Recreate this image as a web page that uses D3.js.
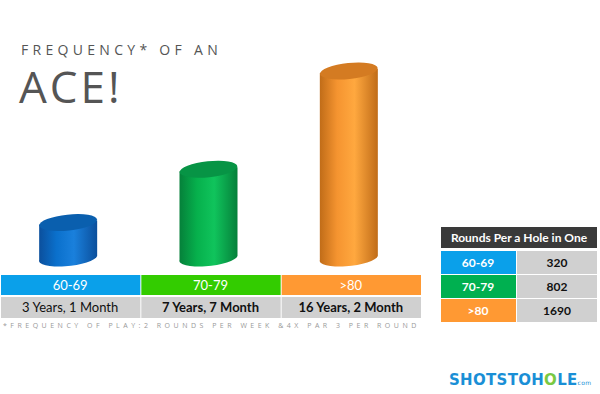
<!DOCTYPE html>
<html lang="en">
<head>
<meta charset="UTF-8">
<script src="https://cdnjs.cloudflare.com/ajax/libs/d3/7.9.0/d3.min.js"></script>
<title>Frequency of an Ace</title>
<style>
  body { margin: 0; background: #fff; font-family: "Open Sans", Arial, sans-serif; }
  svg { display: block; }
</style>
</head>
<body>
<div id="chart"></div>
<script>
  // data
  const ageGroups = ["60-69", "70-79", ">80"];
  const roundsPerAce = [320, 802, 1690];
  const timeLabels = ["3 Years, 1 Month", "7 Years, 7 Month", "16 Years, 2 Month"];
  const bandColors = ["#0aa0ea", "#33cc00", "#ff9933"];
  const tableColors = ["#0aa0ea", "#00b050", "#ff9933"];
  const cylColors = [
    { dark: "#0b4f9c", mid: "#0a70cc", light: "#1a80dc", top: "#0a5fae" },
    { dark: "#05803a", mid: "#06b04c", light: "#10c45c", top: "#079445" },
    { dark: "#c06c18", mid: "#f59430", light: "#ffa83f", top: "#d47b22" }
  ];

  const width = 600, height = 394;
  const svg = d3.select("#chart").append("svg")
    .attr("width", width).attr("height", height);

  const defs = svg.append("defs");
  cylColors.forEach((c, i) => {
    const g = defs.append("linearGradient").attr("id", "cyl" + i)
      .attr("x1", "0%").attr("x2", "100%").attr("y1", "0%").attr("y2", "0%");
    g.append("stop").attr("offset", "0%").attr("stop-color", c.dark);
    g.append("stop").attr("offset", "30%").attr("stop-color", c.mid);
    g.append("stop").attr("offset", "60%").attr("stop-color", c.light);
    g.append("stop").attr("offset", "100%").attr("stop-color", c.dark);
  });

  // title
  svg.append("text").attr("x", 21).attr("y", 55)
    .attr("font-size", 14).attr("letter-spacing", 4.3).attr("fill", "#555")
    .text("FREQUENCY* OF AN");
  svg.append("text").attr("x", 19).attr("y", 103)
    .attr("font-size", 44).attr("letter-spacing", 3).attr("fill", "#555")
    .text("ACE!");

  // scales
  const x = d3.scaleBand().domain(ageGroups).range([0, 421]);
  const y = d3.scaleLinear().domain([0, 1690]).range([258, 71]);
  const rx = 29, ry = 8, tilt = -6;

  const cyl = svg.selectAll(".cyl").data(ageGroups).enter().append("g")
    .attr("class", "cyl")
    .attr("transform", d => `translate(${x(d) + x.bandwidth() / 2 - 2},0)`);

  cyl.append("path")
    .attr("fill", (d, i) => `url(#cyl${i})`)
    .attr("d", (d, i) => {
      const yt = y(roundsPerAce[i]), yb = y(0);
      return `M${-rx},${yt + 2} L${-rx},${yb + 2} A${rx},${ry} ${tilt} 0 0 ${rx},${yb - 2} L${rx},${yt - 2} Z`;
    });
  cyl.append("ellipse")
    .attr("cx", 0).attr("cy", (d, i) => y(roundsPerAce[i]))
    .attr("rx", rx).attr("ry", ry)
    .attr("transform", (d, i) => `rotate(${tilt},0,${y(roundsPerAce[i])})`)
    .attr("fill", (d, i) => cylColors[i].top);

  // label bands
  svg.selectAll(".band").data(ageGroups).enter().append("rect")
    .attr("x", d => x(d) + 1).attr("y", 275)
    .attr("width", x.bandwidth() - 1).attr("height", 20)
    .attr("fill", (d, i) => bandColors[i]);
  svg.selectAll(".bandText").data(ageGroups).enter().append("text")
    .attr("x", d => x(d) + x.bandwidth() / 2).attr("y", 290)
    .attr("text-anchor", "middle").attr("font-size", 13).attr("fill", "#fff")
    .attr("font-family", "Lato, sans-serif")
    .text(d => d);
  svg.selectAll(".timeRect").data(ageGroups).enter().append("rect")
    .attr("x", d => x(d) + 1).attr("y", 297)
    .attr("width", x.bandwidth() - 1).attr("height", 21)
    .attr("fill", "#d0d0d0");
  svg.selectAll(".timeText").data(timeLabels).enter().append("text")
    .attr("x", (d, i) => x(ageGroups[i]) + x.bandwidth() / 2).attr("y", 312)
    .attr("text-anchor", "middle").attr("font-size", 13).attr("fill", "#111")
    .attr("font-family", "Lato, sans-serif")
    .attr("font-weight", (d, i) => i === 0 ? 400 : 700)
    .text(d => d);

  svg.append("text").attr("x", 3).attr("y", 328)
    .attr("font-size", 7).attr("letter-spacing", 3.5).attr("fill", "#999")
    .text("*FREQUENCY OF PLAY:2 ROUNDS PER WEEK &4X PAR 3 PER ROUND");

  // table
  svg.append("rect").attr("x", 441).attr("y", 227).attr("width", 156).attr("height", 21).attr("fill", "#3a3a3a");
  svg.append("text").attr("x", 519).attr("y", 242).attr("text-anchor", "middle")
    .attr("font-size", 12).attr("font-weight", 700).attr("fill", "#fff")
    .attr("font-family", "Lato, sans-serif")
    .text("Rounds Per a Hole in One");
  const rowY = d3.scaleBand().domain(ageGroups).range([251, 323]);
  const rows = svg.selectAll(".row").data(ageGroups).enter().append("g")
    .attr("transform", d => `translate(0,${rowY(d)})`);
  rows.append("rect").attr("x", 441).attr("width", 75).attr("height", rowY.bandwidth() - 1)
    .attr("fill", (d, i) => tableColors[i]);
  rows.append("rect").attr("x", 517).attr("width", 80).attr("height", rowY.bandwidth() - 1)
    .attr("fill", "#d0d0d0");
  rows.append("text").attr("x", 478).attr("y", 16).attr("text-anchor", "middle")
    .attr("font-size", 12).attr("font-weight", 700).attr("fill", "#fff")
    .attr("font-family", "Lato, sans-serif").text(d => d);
  rows.append("text").attr("x", 557).attr("y", 16).attr("text-anchor", "middle")
    .attr("font-size", 12).attr("font-weight", 700).attr("fill", "#111")
    .attr("font-family", "Lato, sans-serif").text((d, i) => roundsPerAce[i]);

  // logo
  const logo = svg.append("text").attr("x", 449).attr("y", 385)
    .attr("font-size", 15).attr("font-weight", 900).attr("fill", "#1a8fd6")
    .attr("font-family", "'DejaVu Sans', sans-serif").attr("letter-spacing", 0.3);
  logo.append("tspan").text("SHOTSTOH");
  logo.append("tspan").attr("fill", "#7ac943").text("O");
  logo.append("tspan").text("LE");
  logo.append("tspan").attr("font-size", 6).attr("font-weight", 400).text("com");
</script>
</body>
</html>
